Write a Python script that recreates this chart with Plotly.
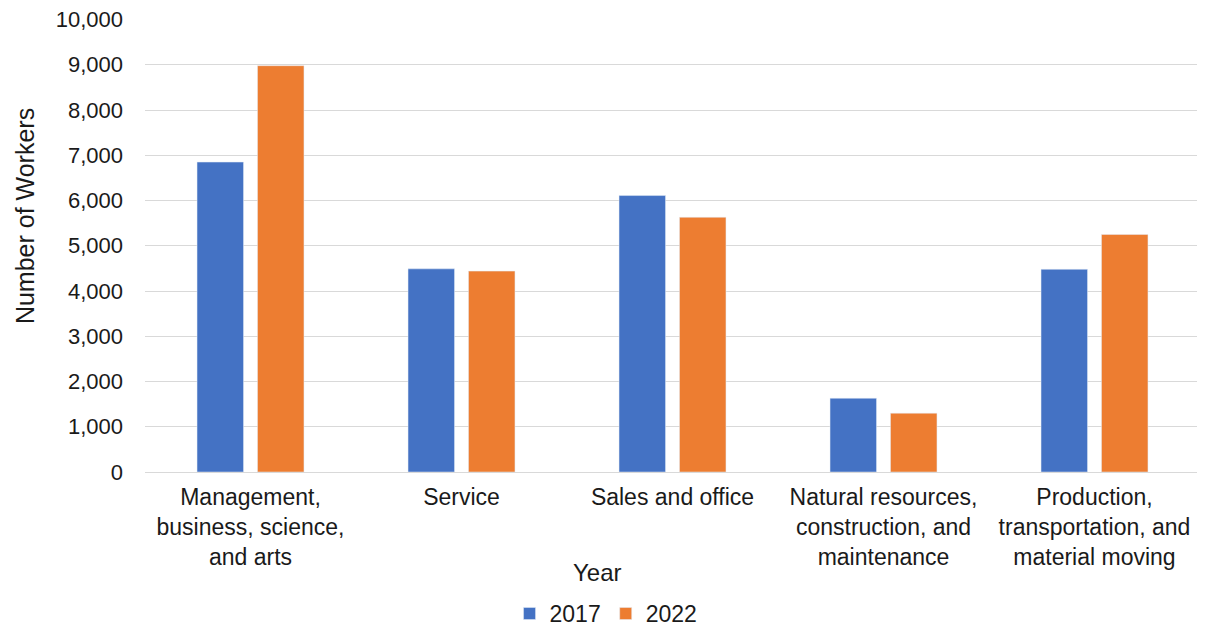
import plotly.graph_objects as go

categories = [
    "Management,<br>business, science,<br>and arts",
    "Service",
    "Sales and office",
    "Natural resources,<br>construction, and<br>maintenance",
    "Production,<br>transportation, and<br>material moving",
]
values_2017 = [6850, 4490, 6110, 1630, 4480]
values_2022 = [8980, 4440, 5630, 1300, 5250]
tick_vals = [0, 1000, 2000, 3000, 4000, 5000, 6000, 7000, 8000, 9000, 10000]

font = "Liberation Sans, Arial, sans-serif"

fig = go.Figure()
fig.add_trace(go.Bar(name="2017", x=categories, y=values_2017, marker_color="#4472C4"))
fig.add_trace(go.Bar(name="2022", x=categories, y=values_2022, marker_color="#ED7D31"))

fig.update_layout(
    width=1205, height=627,
    paper_bgcolor="white", plot_bgcolor="white",
    barmode="group", bargap=0.427, bargroupgap=0.231,
    margin=dict(l=137, r=13, t=11, b=163, autoexpand=False),
    font=dict(family=font, size=21, color="#1a1a1a"),
    xaxis=dict(
        tickfont=dict(size=23), showgrid=False, showline=False, ticks="",
        ticklabelstandoff=9, automargin=False,
    ),
    yaxis=dict(
        range=[0, 10012], tickvals=tick_vals, tickformat=",",
        showgrid=True, gridcolor="#d9d9d9", gridwidth=1,
        zeroline=True, zerolinecolor="#d9d9d9", zerolinewidth=1,
        tickfont=dict(size=22), ticks="", ticklabelstandoff=21, automargin=False,
        ticklabeloverflow="allow",
    ),
    legend=dict(orientation="h", x=0.437, xanchor="center", y=-0.265, yanchor="top",
                font=dict(size=23), itemwidth=30, tracegroupgap=0),
    annotations=[
        dict(text="Year", xref="paper", yref="paper", x=0.429, y=-0.221,
             xanchor="center", yanchor="middle", showarrow=False,
             font=dict(size=24, family=font, color="#1a1a1a")),
        dict(text="Number of Workers", xref="paper", yref="paper", x=-0.1137, y=0.565,
             xanchor="center", yanchor="middle", textangle=-90, showarrow=False,
             font=dict(size=25, family=font, color="#1a1a1a")),
    ],
)

fig.write_html("out.html")
